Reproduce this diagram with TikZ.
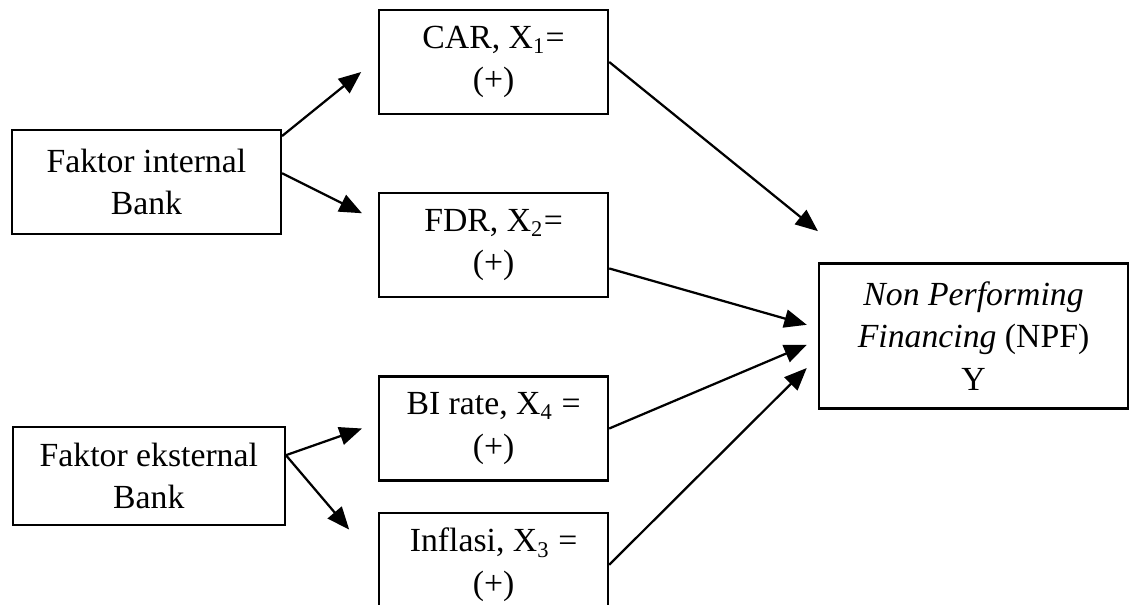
\documentclass[tikz,border=0pt]{standalone}
\usepackage{fontspec}
\setmainfont{Liberation Serif}
\usetikzlibrary{arrows.meta,positioning}

\begin{document}
\begin{tikzpicture}[
  box/.style={draw, thick, minimum height=1.3cm, align=center, font=\fontsize{12}{15}\selectfont, inner sep=2pt},
  var/.style={box, minimum width=2.8625cm},
  arr/.style={-{Triangle[length=8pt, width=6.5pt]}, thick}
]
  \useasboundingbox (0,0) rectangle (14.1375,-7.5625);

  \node[box, minimum width=3.3625cm] (internal) at (1.83,-2.275) {Faktor internal\\Bank};
  \node[box, minimum width=3.4cm, minimum height=1.225cm] (eksternal) at (1.86,-5.95) {Faktor eksternal\\Bank};

  \node[var] (car) at (6.17,-0.775) {CAR, X\textsubscript{1}=\\(+)};
  \node[var, below=0.9625cm of car] (fdr) {FDR, X\textsubscript{2}=\\(+)};
  \node[var, below=0.9625cm of fdr] (bi) {BI rate, X\textsubscript{4} =\\(+)};
  \node[var, below=0.375cm of bi] (inflasi) {Inflasi, X\textsubscript{3} =\\(+)};

  \node[box, minimum width=3.8625cm, minimum height=1.8125cm] (npf) at (12.17,-4.2) {\textit{Non Performing}\\\textit{Financing} (NPF)\\Y};

  \draw[arr] ([yshift=-0.09cm]internal.north east) -- ([xshift=-0.21cm, yshift=-0.125cm]car.west);
  \draw[arr] ([yshift=0.11cm]internal.east) -- ([xshift=-0.2cm, yshift=0.4cm]fdr.west);
  \draw[arr] ([yshift=0.26cm]eksternal.east) -- ([xshift=-0.2cm]bi.west);
  \draw[arr] ([yshift=0.26cm]eksternal.east) -- ([xshift=-0.36cm, yshift=0.44cm]inflasi.west);

  \draw[arr] (car.east) -- ([yshift=0.39cm]npf.north west);
  \draw[arr] ([yshift=-0.29cm]fdr.east) -- ([xshift=-0.14cm, yshift=0.14cm]npf.west);
  \draw[arr] (bi.east) -- ([xshift=-0.14cm, yshift=-0.11cm]npf.west);
  \draw[arr] (inflasi.east) -- ([xshift=-0.14cm, yshift=-0.4cm]npf.west);
\end{tikzpicture}
\end{document}
